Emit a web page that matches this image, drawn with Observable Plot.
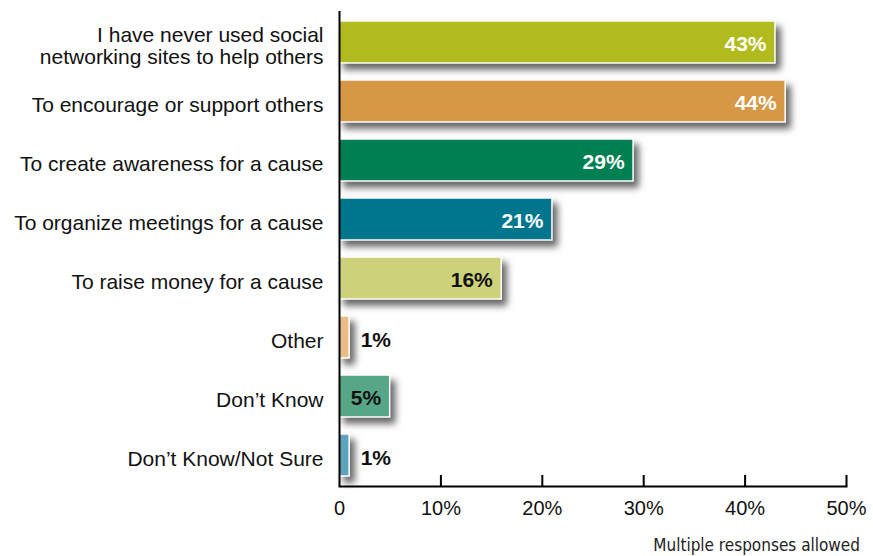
<!DOCTYPE html>
<html>
<head>
<meta charset="utf-8">
<script src="https://cdn.jsdelivr.net/npm/d3@7"></script>
<script src="https://cdn.jsdelivr.net/npm/@observablehq/plot@0.6"></script>
<style>
  html, body { margin: 0; padding: 0; background: #fff; }
  #chart { width: 873px; }
  #caption {
    width: 873px; box-sizing: border-box; text-align: right; padding-right: 13px;
    font-family: "Liberation Sans Narrow", "DejaVu Sans Condensed", "Liberation Sans", Arial, sans-serif;
    font-stretch: condensed; font-size: 17px; color: #222; height: 28px; line-height: 34px;
  }
</style>
</head>
<body>
<div id="chart"></div>
<div id="caption">Multiple responses allowed</div>
<script>
const categories = [
  "I have never used social\nnetworking sites to help others",
  "To encourage or support others",
  "To create awareness for a cause",
  "To organize meetings for a cause",
  "To raise money for a cause",
  "Other",
  "Don\u2019t Know",
  "Don\u2019t Know/Not Sure"
];
const values = [43, 44, 29, 21, 16, 1, 5, 1];
const xTicks = [0, 10, 20, 30, 40, 50];
const palette = ["#b2bb1e", "#d69844", "#008052", "#00768e", "#cdd27a", "#e8be84", "#56a687", "#5ea3bd"];

const data = categories.map((c, i) => ({category: c, value: values[i], color: palette[i]}));
const inside = data.filter(d => d.value >= 3);
const outside = data.filter(d => d.value < 3);

const H = 528, MT = 11, MB = 42;
const font = "'Liberation Sans', Arial, Helvetica, sans-serif";

const chart = Plot.plot({
  width: 873,
  height: H,
  marginLeft: 339,
  marginRight: 27,
  marginTop: MT,
  marginBottom: MB,
  style: {fontFamily: font, fontSize: "20px", color: "#111", background: "#fff"},
  x: {domain: [0, 50], label: null},
  y: {domain: categories, paddingInner: 0.29, paddingOuter: 0.145, label: null},
  marks: [
    Plot.barX(data, {y: "category", x: "value", fill: "color", stroke: "#fff", strokeWidth: 1.5, className: "bars"}),
    Plot.text(inside, {y: "category", x: "value", text: d => d.value + "%", textAnchor: "end", dx: -9, dy: 2,
      fill: d => d.value >= 20 ? "#fff" : "#111", fontWeight: "bold", fontSize: 21}),
    Plot.text(outside, {y: "category", x: "value", text: d => d.value + "%", textAnchor: "start", dx: 11, dy: 3,
      fill: "#111", fontWeight: "bold", fontSize: 21}),
    Plot.axisY({tickSize: 0, tickPadding: 16, fontSize: 21, lineHeight: 1.05, dy: 3, fill: "#111", label: null}),
    Plot.axisX({ticks: xTicks, tickFormat: d => d === 0 ? "0" : d + "%", tickSize: 0, tickPadding: 14, fontSize: 20, fill: "#111", label: null}),
    Plot.ruleX([0], {stroke: "#000", strokeWidth: 2}),
    Plot.ruleX(xTicks.slice(1), {stroke: "#000", strokeWidth: 2, insetTop: H - MT - MB - 11}),
    Plot.frame({anchor: "bottom", stroke: "#000", strokeWidth: 2})
  ]
});

d3.select(chart).selectAll(".bars rect")
  .style("filter", "drop-shadow(5px 6px 3.5px rgba(0,0,0,0.6))");
document.getElementById("chart").appendChild(chart);
</script>
</body>
</html>
